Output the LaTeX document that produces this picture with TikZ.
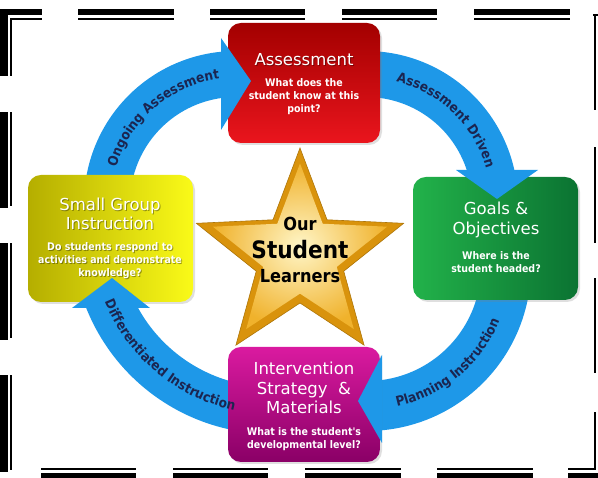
\documentclass[tikz,border=0pt]{standalone}
\usepackage{fontspec}
\setmainfont{DejaVu Sans}
\newfontfamily\condf{DejaVu Sans Condensed}
\usetikzlibrary{decorations.text,shadows,calc}
\definecolor{bandblue}{HTML}{1E98E8}
\definecolor{navy}{HTML}{1B2550}
\definecolor{redtop}{HTML}{A30000}
\definecolor{redbot}{HTML}{EA151D}
\definecolor{yelL}{HTML}{B5AE00}
\definecolor{yelR}{HTML}{FAFA18}
\definecolor{grnL}{HTML}{22B24A}
\definecolor{grnR}{HTML}{0B7332}
\definecolor{pnkT}{HTML}{DA1AA0}
\definecolor{pnkB}{HTML}{8A0066}
\definecolor{goldrim}{HTML}{D9930C}
\definecolor{goldin}{HTML}{FFF6C8}
\definecolor{goldout}{HTML}{F0B22C}
\tikzset{
  bk/.style={fill=black},
  band/.style={fill=bandblue},
  boxst/.style={rounded corners=13pt, draw=none, inner sep=0pt,
     drop shadow={shadow xshift=2pt, shadow yshift=-2pt, opacity=.25}},
  ttl/.style={text=white, align=center, font=\fontsize{16.5}{19.5}\selectfont},
  sub/.style={text=white, align=center, font=\condf\bfseries\fontsize{10.5}{13}\selectfont},
  shd/.style={text=black, opacity=.35},
  arclabel/.style={decorate, decoration={text along path, text align=center,
     text color=navy, text={|\condf\bfseries\fontsize{13.5}{13.5}\selectfont|#1}}}
}
\begin{document}
\begin{tikzpicture}[x=1pt,y=1pt]
\useasboundingbox (0,0) rectangle (598,478);
\fill[white] (0,0) rectangle (598,478);

% ---- dashed double border ----
\fill[bk] (0,463) rectangle (42,469);
\fill[bk] (10,458) rectangle (42,460);
\fill[bk] (0,402) rectangle (8,469);
\fill[bk] (10,402) rectangle (12,460);
\foreach \a/\b in {78/174,210/305,342/437,474/570}{
  \fill[bk] (\a,463) rectangle (\b,469);
  \fill[bk] (\a,458) rectangle (\b,460);
}
\fill[bk] (593,462) rectangle (598,463.5);
\foreach \a/\b in {368/463,235/331,105/200,8/66}{
  \fill[bk] (594,\a) rectangle (596,\b);
}
\fill[bk] (568,8) rectangle (596,10);
\fill[bk] (568,0) rectangle (598,5);
\foreach \a/\b in {41/136,173/268,305/401,437/533}{
  \fill[bk] (\a,8) rectangle (\b,10);
  \fill[bk] (\a,0) rectangle (\b,5);
}
\foreach \a/\b in {270/366,138/235,6/103}{
  \fill[bk] (0,\a) rectangle (8,\b);
  \fill[bk] (10,\a+2) rectangle (12,\b);
}

% ---- arc centres ----
\coordinate (O1) at (236,275);
\coordinate (O2) at (366,275);
\coordinate (O3) at (367,211);
\coordinate (O4) at (272,244);

% ---- arrow bands (under the boxes), each cut at its head's base ----
\begin{scope}
\clip (0,0) rectangle (221.5,478);
\fill[band] plot[domain=195:80, samples=60] ({236+152*cos(\x)},{275+152*sin(\x)})
  -- plot[domain=80:195, samples=60] ({236+106*cos(\x)},{275+106*sin(\x)}) -- cycle;
\end{scope}
\begin{scope}
\clip (0,307.5) rectangle (598,478);
\fill[band] plot[domain=100:0, samples=60] ({366+152*cos(\x)},{275+152*sin(\x)})
  -- plot[domain=0:100, samples=60] ({366+106*cos(\x)},{275+106*sin(\x)}) -- cycle;
\end{scope}
\begin{scope}
\clip (381.5,0) rectangle (598,478);
\fill[band] plot[domain=15:-95, samples=60] ({367+164*cos(\x)},{211+164*sin(\x)})
  -- plot[domain=-95:15, samples=60] ({367+114*cos(\x)},{211+114*sin(\x)}) -- cycle;
\end{scope}
\begin{scope}
\clip (0,0) rectangle (598,170.5);
\fill[band] plot[domain=-80:-170, samples=60] ({272+200*cos(\x)},{244+200*sin(\x)})
  -- plot[domain=-170:-80, samples=60] ({272+153*cos(\x)},{244+153*sin(\x)}) -- cycle;
\end{scope}

% ---- boxes ----
\node[boxst, minimum width=152pt, minimum height=120pt, top color=redtop, bottom color=redbot] (assess) at (304,395) {};
\node[boxst, minimum width=165pt, minimum height=127pt, left color=yelL, right color=yelR] (small) at (110.5,239.5) {};
\node[boxst, minimum width=165pt, minimum height=123pt, left color=grnL, right color=grnR] (goals) at (495.5,239.5) {};
\node[boxst, minimum width=152pt, minimum height=115pt, top color=pnkT, bottom color=pnkB] (interv) at (304,73.5) {};

% ---- arrow heads (over the boxes) ----
\coordinate (h1a) at (221,440); \coordinate (h1t) at (251,397); \coordinate (h1b) at (221,348);
\coordinate (h2a) at (456,308); \coordinate (h2t) at (497,279); \coordinate (h2b) at (538,308);
\coordinate (h3a) at (382,123); \coordinate (h3t) at (358,77);  \coordinate (h3b) at (382,35);
\coordinate (h4a) at (72,170);  \coordinate (h4t) at (112,200); \coordinate (h4b) at (150,170);
\fill[band] (h1a) -- (h1t) -- (h1b) -- cycle;
\fill[band] (h2a) -- (h2t) -- (h2b) -- cycle;
\fill[band] (h3a) -- (h3t) -- (h3b) -- cycle;
\fill[band] (h4a) -- (h4t) -- (h4b) -- cycle;

% ---- arc labels ----
\path[arclabel=Ongoing Assessment] ($(O1)+(172:125)$) arc[start angle=172, end angle=89, radius=125pt];
\path[arclabel=Assessment Driven] ($(O2)+(88:125)$) arc[start angle=88, end angle=4, radius=125pt];
\path[arclabel=Planning Instruction] ($(O3)+(-94:143)$) arc[start angle=-94, end angle=-6, radius=143pt];
\path[arclabel=Differentiated Instruction] ($(O4)+(194:180.5)$) arc[start angle=194, end angle=266, radius=180.5pt];

% ---- star ----
\fill[goldrim, draw=goldrim!80!black, line width=.6pt, shift={(300,221)}]
  (90:109) -- (126:46) -- (162:109) -- (198:46) -- (234:109) -- (270:46)
  -- (306:109) -- (342:46) -- (18:109) -- (54:46) -- cycle;
\shade[inner color=goldin, outer color=goldout, shift={(300,223)}, scale=0.84]
  (90:109) -- (126:46) -- (162:109) -- (198:46) -- (234:109) -- (270:46)
  -- (306:109) -- (342:46) -- (18:109) -- (54:46) -- cycle;
\node[font=\condf\bfseries\fontsize{18}{18}\selectfont] (our) at (300,254) {Our};
\node[font=\condf\bfseries\fontsize{24}{24}\selectfont] (stud) at (300,228) {Student};
\node[font=\condf\bfseries\fontsize{18}{18}\selectfont] (learn) at (300,202) {Learners};

% ---- box texts ----
\node[ttl, shd] (assesstS) at (305,417) {Assessment};
\node[ttl] (assesst) at (304,418) {Assessment};
\node[sub] (assesss) at (304,381) {What does the\\student know at this\\point?};

\node[ttl, shd] (smalltS) at (111,263) {Small Group\\Instruction};
\node[ttl] (smallt) at (110,264) {Small Group\\Instruction};
\node[sub, shd] (smallsS) at (111,216) {Do students respond to\\activities and demonstrate\\knowledge?};
\node[sub] (smalls) at (110,217) {Do students respond to\\activities and demonstrate\\knowledge?};

\node[ttl] (goalst) at (496,258) {Goals \&\\Objectives};
\node[sub] (goalss) at (496,216) {Where is the\\student headed?};

\node[ttl] (intervt) at (304,90) {Intervention\\Strategy\ \ \&\\Materials};
\node[sub] (intervs) at (304,39) {What is the student's\\developmental level?};
\end{tikzpicture}
\end{document}
